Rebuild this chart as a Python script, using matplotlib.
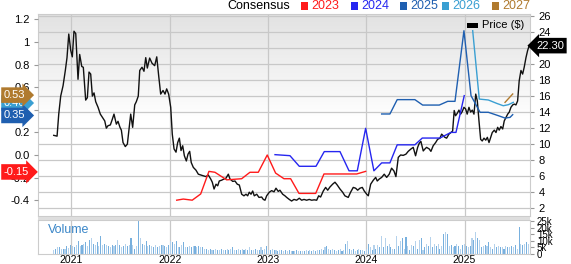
import numpy as np
import matplotlib
matplotlib.use("Agg")
import matplotlib.pyplot as plt
from matplotlib import transforms
from matplotlib.patches import Rectangle

plt.rcParams['font.family'] = ['Liberation Sans', 'DejaVu Sans']

# ---------------- data ----------------
price_t = [2020.821, 2020.855, 2020.872, 2020.892, 2020.916, 2020.939, 2020.956, 2020.974, 2020.994,
           2021.010, 2021.027, 2021.045, 2021.068, 2021.085, 2021.106, 2021.122, 2021.146, 2021.163,
           2021.180, 2021.197, 2021.214, 2021.231, 2021.248, 2021.272, 2021.295, 2021.322, 2021.340,
           2021.356, 2021.373, 2021.397, 2021.414, 2021.434, 2021.458, 2021.475, 2021.495, 2021.509,
           2021.526, 2021.549, 2021.570, 2021.587, 2021.604, 2021.624, 2021.645, 2021.661, 2021.681,
           2021.696, 2021.719, 2021.739, 2021.757, 2021.773, 2021.797, 2021.821, 2021.848, 2021.869,
           2021.889, 2021.909, 2021.933, 2021.953, 2021.970, 2021.990, 2022.011, 2022.027, 2022.045,
           2022.065, 2022.082, 2022.099, 2022.116, 2022.133, 2022.150, 2022.170, 2022.187, 2022.204,
           2022.220, 2022.241, 2022.268, 2022.292, 2022.316, 2022.342, 2022.370, 2022.393, 2022.418,
           2022.434, 2022.452, 2022.472, 2022.489, 2022.505, 2022.529, 2022.553, 2022.573, 2022.597,
           2022.614, 2022.642, 2022.665, 2022.688, 2022.709, 2022.733, 2022.756, 2022.777, 2022.794,
           2022.810, 2022.828, 2022.845, 2022.861, 2022.886, 2022.909, 2022.936, 2022.953, 2022.970,
           2022.987, 2023.014, 2023.038, 2023.062, 2023.082, 2023.105, 2023.122, 2023.150, 2023.173,
           2023.191, 2023.217, 2023.241, 2023.265, 2023.292, 2023.319, 2023.343, 2023.367, 2023.394,
           2023.420, 2023.445, 2023.471, 2023.496, 2023.516, 2023.536, 2023.563, 2023.587, 2023.608,
           2023.631, 2023.658, 2023.682, 2023.705, 2023.733, 2023.760, 2023.783, 2023.817, 2023.841,
           2023.868, 2023.892, 2023.913, 2023.936, 2023.960, 2023.980, 2024.005, 2024.021, 2024.045,
           2024.072, 2024.096, 2024.112, 2024.133, 2024.157, 2024.183, 2024.208, 2024.234, 2024.258,
           2024.282, 2024.302, 2024.326, 2024.350, 2024.376, 2024.404, 2024.427, 2024.455, 2024.478,
           2024.502, 2024.523, 2024.539, 2024.556, 2024.580, 2024.597, 2024.614, 2024.641, 2024.658,
           2024.681, 2024.706, 2024.726, 2024.750, 2024.767, 2024.783, 2024.800, 2024.818, 2024.841,
           2024.862, 2024.879, 2024.895, 2024.909, 2024.926, 2024.943, 2024.960, 2024.976, 2024.994,
           2025.011, 2025.027, 2025.045, 2025.062, 2025.079, 2025.096, 2025.114, 2025.130, 2025.147,
           2025.164, 2025.180, 2025.198, 2025.216, 2025.232, 2025.249, 2025.266, 2025.282, 2025.303,
           2025.320, 2025.337, 2025.353, 2025.370, 2025.388, 2025.404, 2025.422, 2025.439, 2025.455,
           2025.472, 2025.490, 2025.506, 2025.523, 2025.540, 2025.556, 2025.574, 2025.591, 2025.607,
           2025.625, 2025.642, 2025.658]
price = [11.1, 11.0, 13.75, 16.0, 17.3, 19.2, 20.8, 23.75, 21.7,
         20.9, 24.1, 23.8, 18.1, 21.2, 19.7, 19.6, 15.5, 15.8,
         19.0, 18.75, 16.0, 16.4, 15.3, 14.6, 13.75, 13.25, 12.9,
         12.0, 12.3, 12.4, 13.0, 13.75, 12.5, 12.85, 12.1, 11.75,
         10.2, 9.7, 10.0, 11.9, 13.75, 12.1, 14.9, 15.3, 16.0,
         19.2, 19.6, 19.1, 20.8, 19.5, 20.75, 20.1, 19.8, 20.9,
         18.5, 16.25, 16.7, 16.25, 16.9, 16.25, 14.6, 11.25, 9.4,
         9.0, 10.2, 10.75, 9.2, 9.8, 8.55, 7.9, 8.75, 9.1,
         7.7, 7.1, 6.75, 6.25, 6.15, 6.05, 5.95, 6.15, 5.65,
         5.25, 4.4, 5.0, 4.8, 5.4, 5.5, 5.65, 5.75, 6.25,
         5.65, 5.35, 5.4, 5.0, 4.9, 3.75, 3.55, 3.75, 3.55,
         4.0, 3.75, 4.15, 3.55, 3.75, 3.35, 3.4, 3.1, 3.0,
         3.55, 4.0, 4.2, 4.05, 4.5, 4.1, 4.25, 3.75, 3.55,
         3.35, 3.1, 2.9, 3.1, 3.0, 3.25, 3.0, 3.1, 3.0,
         3.1, 3.0, 3.05, 3.0, 3.55, 3.4, 4.15, 4.6, 4.25,
         4.65, 5.0, 5.25, 4.9, 4.4, 4.0, 3.55, 3.35, 4.0,
         4.6, 4.5, 4.25, 4.5, 4.6, 4.15, 3.75, 3.55, 5.0,
         5.5, 5.85, 5.4, 5.65, 5.85, 6.25, 5.85, 6.25, 7.0,
         6.65, 5.95, 8.35, 8.65, 8.6, 8.75, 9.1, 9.4, 9.6,
         8.55, 9.6, 10.1, 10.35, 9.15, 9.4, 9.6, 9.4, 9.1,
         9.8, 10.2, 10.6, 10.75, 11.25, 11.05, 10.85, 10.75, 11.25,
         11.45, 11.65, 14.2, 13.55, 13.85, 14.25, 13.75, 14.05, 14.6,
         14.4, 13.75, 14.6, 14.0, 14.25, 13.75, 16.25, 15.4, 12.9,
         10.6, 10.4, 10.75, 10.5, 10.85, 10.2, 10.85, 11.45, 11.75,
         11.45, 12.1, 11.75, 12.2, 11.9, 12.9, 13.35, 13.75, 14.0,
         14.6, 14.9, 15.0, 14.9, 15.4, 17.9, 19.2, 18.75, 19.6,
         20.8, 21.7, 22.3]

eps23_t = [2022.072, 2022.139, 2022.230, 2022.316, 2022.400, 2022.461, 2022.580, 2022.733, 2022.817,
           2022.902, 2022.993, 2023.078, 2023.163, 2023.231, 2023.316, 2023.486, 2023.570, 2023.903,
           2023.994]
eps23 = [-0.40, -0.39, -0.40, -0.345, -0.145, -0.153, -0.22, -0.21, -0.153,
         -0.153, 0.0, -0.16, -0.21, -0.21, -0.34, -0.34, -0.168, -0.168, -0.145]

eps24_t = [2023.072, 2023.224, 2023.319, 2023.489, 2023.573, 2023.733, 2023.825, 2023.909, 2023.994,
           2024.078, 2024.157, 2024.241, 2024.315, 2024.495, 2024.570, 2024.750, 2024.862, 2024.913,
           2024.997]
eps24 = [0.003, -0.006, -0.10, -0.10, 0.03, 0.03, -0.14, -0.14, 0.236,
         -0.14, -0.07, -0.07, 0.09, 0.09, 0.15, 0.15, 0.20, 0.20, 0.525]

eps25_t = [2024.157, 2024.241, 2024.315, 2024.495, 2024.574, 2024.743, 2024.829, 2024.903, 2024.994,
           2025.066, 2025.158, 2025.242, 2025.344, 2025.412, 2025.463, 2025.490]
eps25 = [0.363, 0.363, 0.49, 0.49, 0.442, 0.442, 0.475, 0.475, 1.10,
         0.525, 0.378, 0.378, 0.348, 0.327, 0.333, 0.357]

eps26_t = [2025.083, 2025.150, 2025.242, 2025.327, 2025.394, 2025.445, 2025.496]
eps26 = [1.10, 0.495, 0.487, 0.457, 0.436, 0.445, 0.466]

eps27_t = [2025.412, 2025.490]
eps27 = [0.466, 0.54]

# weekly volume in thousands of shares, first week ending 2020.821
vol_start = 2020.821
volume = [3, 3.5, 5, 5, 4, 3.5, 4, 6, 4.5, 7,
          6, 5, 7, 10, 6, 7, 8, 9, 6, 11, 12, 8,
          7, 9, 6, 14, 7, 8, 7, 6, 5, 7, 6, 7, 11,
          7, 5, 6, 8, 6, 7, 12, 7, 4, 6, 25,
          12, 8, 7, 10, 6,
          7, 6, 5, 7, 5, 6, 7, 7, 6, 5, 7, 10,
          9, 8, 10, 5, 5, 7, 9, 5, 5, 6,
          5, 6, 6, 5, 6, 5, 5, 4,
          4, 3, 4, 3, 3, 4, 3, 3, 4, 3, 3, 4, 3, 4, 5, 3, 3, 4, 3, 4,
          3, 4, 3, 5, 3, 3, 4, 3, 3, 5, 3, 4, 6, 3, 3, 4, 3, 3, 2, 3, 3, 2, 3,
          2, 3, 2, 2.5, 2, 3, 2, 2, 2.5, 2, 3, 2.5, 3, 2, 3, 2.5, 3,
          3, 4, 3, 5, 6, 4,
          3, 4, 3, 2.5, 3, 4, 2.5, 3, 8, 10,
          4, 3, 4, 2, 3, 4, 3,
          3, 2, 4, 8, 5, 3, 7,
          4, 7, 5, 14, 5, 12,
          6, 8, 5, 4, 4, 14, 6,
          10, 12, 4, 13, 6, 3, 7,
          6, 10, 4, 11, 12, 3, 5,
          8, 6, 13, 5, 8, 6,
          8, 4, 6, 15, 17, 15, 6,
          7, 5, 6, 8, 6, 4,
          7, 8, 6, 5, 6, 12,
          11, 17, 12, 11, 5, 6,
          7, 6, 9, 5, 4, 8, 5,
          6, 5, 5, 4, 6, 5, 5, 6,
          5, 7, 4, 21,
          8, 7, 8, 9, 8]

years = [2021, 2022, 2023, 2024, 2025]
eps_ticks = [-0.4, -0.2, 0.0, 0.2, 0.4, 0.6, 0.8, 1.0, 1.2]
eps_tick_labels = ['-0.4', '-0.2', '0.0', '0.2', '0.4', '0.6', '0.8', '1', '1.2']
price_ticks = [2, 4, 6, 8, 10, 12, 14, 16, 18, 20, 22, 24, 26]
vol_ticks = [0, 5, 10, 15, 20, 25]
vol_tick_labels = ['0', '5k', '10k', '15k', '20k', '25k']

series_names = ['2023', '2024', '2025', '2026', '2027']
series_colors = ['#ff1a1a', '#2626f0', '#1f5fb0', '#3a9fd2', '#b07a2e']
end_labels = [('0.53', 0.53, '#b07a2e', 5), ('0.46', 0.46, '#3a9fd2', 3),
              ('0.35', 0.35, '#1f5fb0', 4), ('-0.15', -0.15, '#ff1a1a', 4)]
last_price = 22.30

# ---------------- figure ----------------
W, H = 571, 264
fig = plt.figure(figsize=(W / 100, H / 100), dpi=100)
fig.patch.set_facecolor('white')

def box(l, t, r, b):
    return [l / W, 1 - b / H, (r - l) / W, (b - t) / H]

xlim = (2020.661, 2025.666)
grid_c = '#c8c8c8'

ax = fig.add_axes(box(38, 14, 530, 216))
ax_e = ax.twinx()

# price axis (right side, carries the grid)
ax.set_xlim(*xlim)
ax.set_ylim(1.03, 26.25)
ax.yaxis.tick_right()
ax.set_yticks(price_ticks)
ax.tick_params(axis='y', labelsize=8, length=3, color='#999999', pad=3,
               left=False, labelleft=False, right=True, labelright=True)
ax.set_xticks(years)
ax.tick_params(axis='x', length=0, labelbottom=False)
ax.grid(True, color=grid_c, lw=0.9)
ax.set_axisbelow(True)
for s in ax.spines.values():
    s.set_color('#cccccc')
    s.set_linewidth(0.8)

# background gradient
grad = np.clip(np.linspace(0.0, 1.0, 256).reshape(-1, 1) * 1.9, 0, 1)
ax.imshow(grad, extent=(0, 1, 0, 1), transform=ax.transAxes, aspect='auto',
          cmap=matplotlib.colors.LinearSegmentedColormap.from_list('bg', ['#e2e2e2', '#ffffff']),
          zorder=-10, origin='upper')

ax.plot(price_t, price, color='#111111', lw=1.0, zorder=3)

# EPS axis (left side)
ax_e.set_ylim(-0.54, 1.248)
ax_e.set_yticks(eps_ticks)
ax_e.set_yticklabels(eps_tick_labels)
ax_e.tick_params(axis='y', labelsize=8, length=3, color='#999999', pad=3,
                 left=True, labelleft=True, right=False, labelright=False)
ax_e.set_xlim(*xlim)
for s in ax_e.spines.values():
    s.set_visible(False)

for (t, v), c in zip([(eps23_t, eps23), (eps24_t, eps24), (eps25_t, eps25),
                      (eps26_t, eps26), (eps27_t, eps27)], series_colors):
    ax_e.plot(t, v, color=c, lw=1.0)

# left end-value tags
trans = transforms.blended_transform_factory(fig.transFigure, ax_e.transData)
for txt, v, c, z in end_labels:
    ax_e.text(4 / W, v, txt, transform=trans, ha='left', va='center', fontsize=8,
              color='white', zorder=z, clip_on=False,
              bbox=dict(boxstyle='rarrow,pad=0.25', fc=c, ec='none'))

# right price tag
ax.text(536 / W, last_price, '22.30',
        transform=transforms.blended_transform_factory(fig.transFigure, ax.transData),
        ha='left', va='center', fontsize=8, color='white', clip_on=False, zorder=10,
        bbox=dict(boxstyle='larrow,pad=0.25', fc='black', ec='none'))

# price legend inside plot
fig.patches.append(Rectangle((467 / W, 1 - 28 / H), 11 / W, 5 / H,
                             transform=fig.transFigure, fc='black', ec='none'))
fig.text(482 / W, 1 - 25.5 / H, 'Price ($)', fontsize=8, va='center', ha='left')

# top legend
fig.text(227 / W, 1 - 6 / H, 'Consensus', fontsize=9, va='center', ha='left')
leg_x = [301, 351, 400, 442, 492]
for x0, name, c in zip(leg_x, series_names, series_colors):
    fig.patches.append(Rectangle((x0 / W, 1 - 10 / H), 7 / W, 8 / H,
                                 transform=fig.transFigure, fc=c, ec='none'))
    fig.text((x0 + 10) / W, 1 - 6 / H, name, fontsize=9, color=c, va='center', ha='left')

# separator band
fig.patches.append(Rectangle((38 / W, 1 - 219.5 / H), 492 / W, 3 / H,
                             transform=fig.transFigure, fc='#dedede', ec='none'))

# ---------------- volume ----------------
axv = fig.add_axes(box(38, 220, 530, 254))
axv.set_xlim(*xlim)
axv.set_ylim(0, 26)
vol_t = vol_start + np.arange(len(volume)) * 7 / 365.25
vcols = ['#b5d2ec' if i % 2 == 0 else '#78b0de' for i in range(len(volume))]
axv.bar(vol_t, volume, width=0.011, color=vcols, align='center', zorder=2)
axv.yaxis.tick_right()
axv.set_yticks(vol_ticks)
axv.set_yticklabels(vol_tick_labels)
axv.tick_params(axis='y', labelsize=7, length=3, color='#999999', pad=2)
axv.set_xticks(years)
axv.set_xticklabels([str(y) for y in years])
axv.tick_params(axis='x', length=0, labelsize=7.5, pad=1)
axv.grid(True, axis='x', color=grid_c, lw=0.9)
axv.set_axisbelow(True)
for s in axv.spines.values():
    s.set_color('#cccccc')
    s.set_linewidth(0.8)
axv.text(0.02, 0.72, 'Volume', transform=axv.transAxes, fontsize=9, color='#3a86c8',
         va='center', ha='left')

fig.savefig('out.png', dpi=100)
